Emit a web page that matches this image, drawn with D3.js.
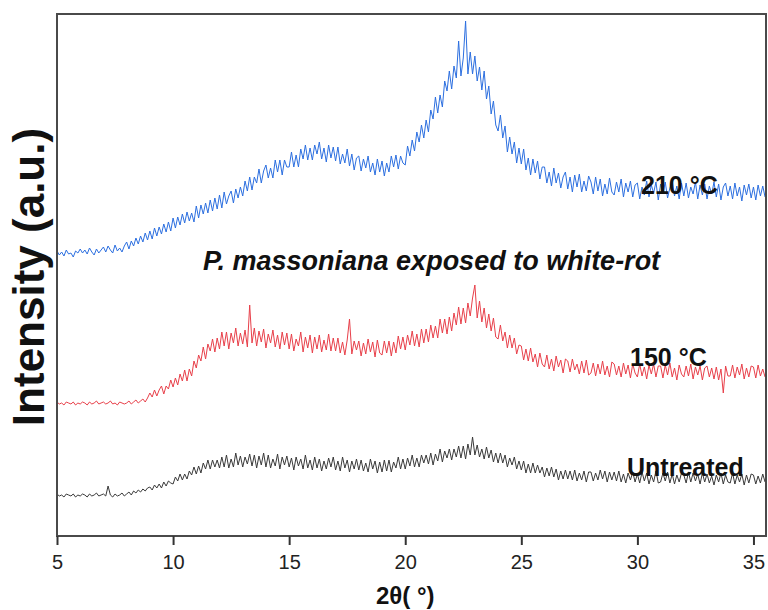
<!DOCTYPE html>
<html>
<head>
<meta charset="utf-8">
<script src="https://cdn.jsdelivr.net/npm/d3@7"></script>
<style>
  body { margin: 0; background: #fff; }
  svg { display: block; font-family: "Liberation Sans", Arial, sans-serif; }
</style>
</head>
<body>
<div id="chart"></div>
<script>
// 2-theta sampling: 5.0 .. 35.5 deg, 0.1 deg step
var thetaStart = 5.0, thetaStep = 0.1;
var xTicks = [5, 10, 15, 20, 25, 30, 35];

// intensity (a.u.), one row per degree
var t210 = [
  285,281,284,280,286,282,283,279,285,283,
  287,283,286,282,288,284,281,287,283,286,
  289,284,290,286,283,291,285,288,284,290,
  294,287,295,290,298,292,300,294,303,296,
  305,297,308,300,309,302,312,304,314,305,
  318,308,319,311,322,313,324,315,323,314,
  330,318,331,322,333,323,336,325,338,327,
  341,328,344,332,340,345,333,347,338,349,
  340,355,345,359,346,359,353,367,353,365,
  371,358,368,358,376,364,376,361,376,369,
  369,384,369,381,369,387,377,391,376,388,
  376,391,382,394,377,388,374,391,378,389,
  375,389,372,382,373,387,370,382,366,378,
  380,365,377,368,380,364,373,361,377,364,
  375,360,373,364,380,369,381,367,380,373,
  371,390,380,396,385,404,394,411,398,416,
  404,426,417,439,423,441,429,455,445,465,
  447,470,458,495,460,478,515,462,484,462,
  480,455,469,446,465,437,450,422,435,411,
  405,421,398,410,384,399,382,394,373,388,
  372,387,366,378,361,377,363,375,357,369,
  369,353,364,350,368,353,363,348,359,364,
  347,359,344,361,349,362,344,355,345,360,
  354,342,359,345,357,340,352,342,358,344,
  341,354,344,357,339,353,344,355,339,351,
  353,337,349,341,355,339,351,343,354,336,
  352,342,354,338,348,355,340,350,337,353,
  340,353,338,349,342,354,337,351,341,352,
  337,350,342,354,339,352,336,349,353,340,
  350,337,353,340,349,335,351,341,352,338,
  349,336,351,340,350,339
];
var t150 = [
  134,132,133,131,134,133,132,134,131,133,
  132,134,133,131,134,132,133,135,132,133,
  134,132,133,135,132,133,131,134,133,132,
  133,135,132,134,136,133,135,137,134,138,
  143,139,146,140,146,150,142,150,147,156,
  149,158,151,162,155,166,155,167,160,175,
  168,181,175,189,177,192,185,197,184,198,
  187,204,190,204,187,203,193,208,190,203,
  192,206,189,231,193,208,190,205,194,207,
  188,202,193,206,189,201,187,204,191,203,
  187,202,185,197,190,204,184,199,188,201,
  183,199,187,201,184,196,186,202,185,198,
  185,198,183,194,181,196,217,182,195,186,
  195,180,193,182,197,184,194,179,196,183,
  181,195,183,195,180,194,183,200,187,199,
  186,201,191,205,190,202,189,207,193,207,
  194,211,198,210,198,217,203,217,202,219,
  205,223,211,229,212,228,213,233,220,238,
  251,218,235,214,228,208,222,205,218,199,
  197,211,195,204,188,201,188,198,182,191,
  190,176,187,175,188,174,182,169,183,172,
  169,181,167,177,165,180,169,176,163,177,
  175,164,177,166,172,162,175,163,176,161,
  163,173,160,172,162,175,161,170,159,174,
  172,161,170,159,173,162,171,158,172,163,
  159,172,160,169,157,171,162,172,159,170,
  170,158,171,161,173,159,168,156,171,162,
  159,170,160,172,157,169,161,170,156,168,
  170,159,168,157,169,156,167,143,170,160,
  160,171,158,169,161,172,157,168,159,170,
  169,158,171,160,167,159
];
var untreated = [
  42,40,41,39,42,41,40,42,39,41,
  40,42,41,39,42,40,41,43,40,41,
  42,40,50,41,39,42,40,41,43,40,
  42,44,41,45,43,46,44,47,45,48,
  49,46,51,48,52,48,54,50,55,53,
  52,59,55,62,56,62,57,65,61,69,
  62,70,63,73,67,76,67,76,69,76,
  68,79,69,81,68,77,69,83,71,80,
  69,79,72,82,70,81,68,80,71,83,
  69,81,68,77,70,82,67,79,71,80,
  69,78,66,79,70,77,67,81,68,76,
  66,79,68,77,65,75,67,78,69,79,
  66,75,65,79,68,76,64,75,67,77,
  66,76,65,73,64,77,67,75,63,74,
  64,76,65,76,64,74,68,79,67,77,
  67,78,70,81,69,78,69,81,73,81,
  72,83,71,82,75,87,74,85,78,87,
  76,87,79,90,78,90,77,92,81,99,
  81,91,79,87,77,89,78,86,74,83,
  73,83,73,81,69,78,71,79,67,75,
  66,75,63,72,63,73,63,71,63,69,
  59,68,60,69,59,67,56,65,57,66,
  57,65,56,66,55,63,56,65,54,64,
  64,55,63,56,66,57,65,54,64,56,
  64,55,65,54,62,53,63,56,64,54,
  62,53,64,55,63,52,61,54,65,53,
  54,63,55,64,53,62,52,61,54,63,
  61,53,64,54,63,55,62,52,63,54,
  62,53,60,51,61,54,63,52,61,54,
  53,63,52,61,54,62,51,61,53,62,
  61,52,60,53,62,54
];

var seriesNames = ["210 \u00b0C", "150 \u00b0C", "Untreated"];
var seriesColors = ["#2c6fe0", "#e8404a", "#3a3a3a"];
var seriesData = [t210, t150, untreated];

var W = 768, H = 610;
var margin = {top: 14, right: 2, bottom: 74, left: 57};
var width = W - margin.left - margin.right,
    height = H - margin.top - margin.bottom;

var x = d3.scaleLinear().domain([5, 35.54]).range([0, width]);
var y = d3.scaleLinear().domain([0, 522]).range([height, 0]);

var svg = d3.select("#chart").append("svg")
    .attr("width", W)
    .attr("height", H);

var g = svg.append("g")
    .attr("transform", "translate(" + margin.left + "," + margin.top + ")");

g.append("clipPath").attr("id", "clip")
  .append("rect").attr("width", width).attr("height", height);

var line = d3.line()
    .x(function(d, i) { return x(thetaStart + i * thetaStep); })
    .y(function(d) { return y(d); });

seriesData.forEach(function(arr, k) {
  g.append("path")
      .datum(arr)
      .attr("clip-path", "url(#clip)")
      .attr("fill", "none")
      .attr("stroke", seriesColors[k])
      .attr("stroke-width", 1)
      .attr("stroke-linejoin", "round")
      .attr("d", line);
});

// frame
g.append("rect")
    .attr("width", width).attr("height", height)
    .attr("fill", "none")
    .attr("stroke", "#4a4a4a")
    .attr("stroke-width", 2);

// x axis
var xAxis = g.append("g")
    .attr("transform", "translate(0," + height + ")")
    .call(d3.axisBottom(x).tickValues(xTicks).tickSize(9).tickPadding(10));
xAxis.select(".domain").remove();
xAxis.selectAll(".tick line").attr("stroke", "#333").attr("stroke-width", 2);
xAxis.selectAll(".tick text")
    .attr("fill", "#222")
    .style("font-size", "20px")
    .style("font-family", "'Liberation Sans', Arial, sans-serif");

// axis titles
svg.append("text")
    .attr("x", margin.left + x(20))
    .attr("y", 604)
    .attr("text-anchor", "middle")
    .style("font-size", "24px")
    .style("font-weight", "bold")
    .attr("fill", "#111")
    .text("2\u03b8( \u00b0)");

svg.append("text")
    .attr("transform", "translate(44,277) rotate(-90)")
    .attr("text-anchor", "middle")
    .style("font-size", "44px")
    .style("font-weight", "bold")
    .attr("fill", "#111")
    .text("Intensity (a.u.)");

// curve labels
var labelPos = [[641, 194], [630, 366], [627, 476]];
seriesNames.forEach(function(name, k) {
  svg.append("text")
      .attr("x", labelPos[k][0])
      .attr("y", labelPos[k][1])
      .style("font-size", "25px")
      .style("font-weight", "bold")
      .attr("fill", "#111")
      .text(name);
});

svg.append("text")
    .attr("x", 203)
    .attr("y", 270)
    .style("font-size", "27px")
    .style("font-weight", "bold")
    .style("font-style", "italic")
    .attr("fill", "#111")
    .text("P. massoniana exposed to white-rot");
</script>
</body>
</html>
